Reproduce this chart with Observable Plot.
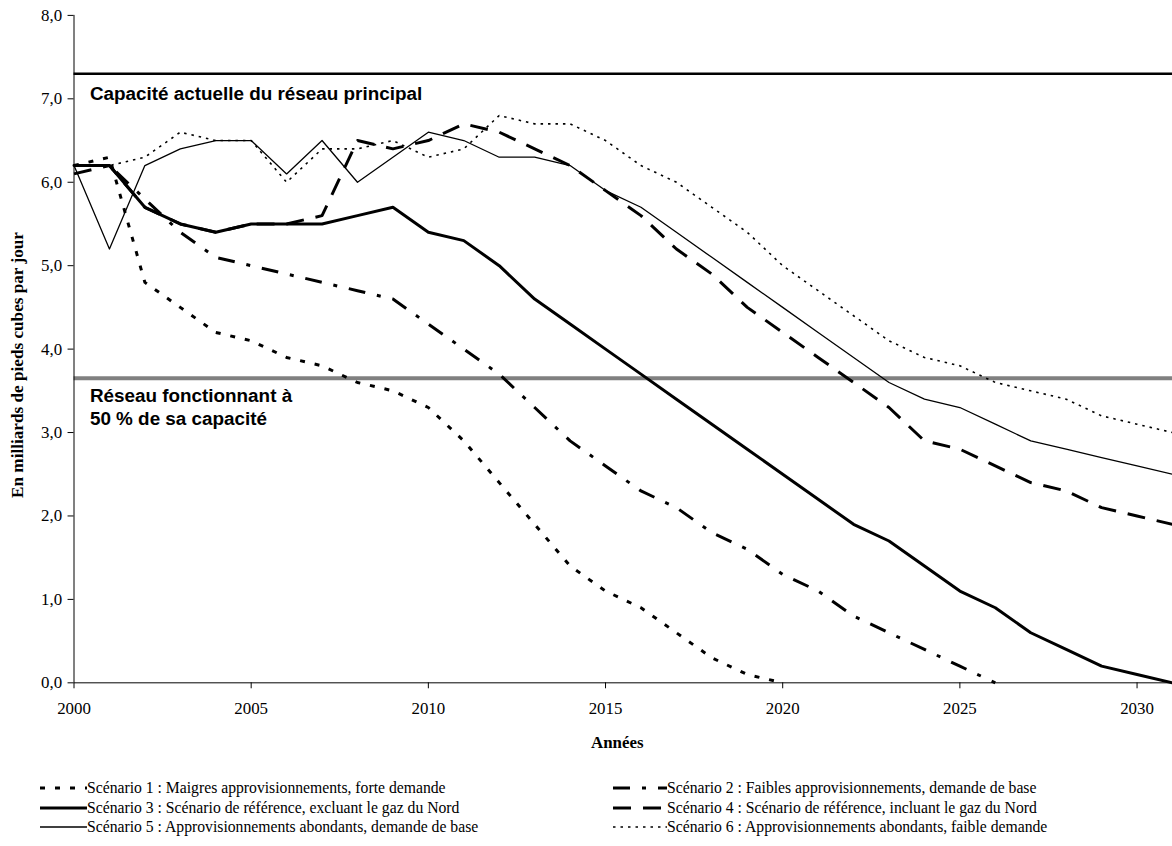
<!DOCTYPE html>
<html>
<head>
<meta charset="utf-8">
<script src="https://cdn.jsdelivr.net/npm/d3@7"></script>
<script src="https://cdn.jsdelivr.net/npm/@observablehq/plot@0.6"></script>
<style>
html, body { margin: 0; padding: 0; background: #fff; overflow: hidden; }
#wrap { position: relative; width: 1172px; height: 846px; overflow: hidden; background: #fff; }
#legend { position: absolute; left: 0; top: 0; width: 1172px; height: 846px; pointer-events: none;
  font-family: "Liberation Serif", "Times New Roman", serif; font-size: 15.7px; color: #000; }
.item { position: absolute; display: flex; align-items: center; height: 20px; white-space: nowrap; }
.item svg { display: block; }
</style>
</head>
<body>
<div id="wrap"><div id="chart"></div><div id="legend"></div></div>
<script>
// ---- Data ----
const years = [2000, 2001, 2002, 2003, 2004, 2005, 2006, 2007, 2008, 2009, 2010,
               2011, 2012, 2013, 2014, 2015, 2016, 2017, 2018, 2019, 2020,
               2021, 2022, 2023, 2024, 2025, 2026, 2027, 2028, 2029, 2030, 2031];

const scenario1 = [6.2, 6.3, 4.8, 4.5, 4.2, 4.1, 3.9, 3.8, 3.6, 3.5, 3.3,
                   2.9, 2.4, 1.9, 1.4, 1.1, 0.9, 0.6, 0.3, 0.1, 0.0];
const scenario2 = [6.2, 6.2, 5.8, 5.4, 5.1, 5.0, 4.9, 4.8, 4.7, 4.6, 4.3,
                   4.0, 3.7, 3.3, 2.9, 2.6, 2.3, 2.1, 1.8, 1.6, 1.3,
                   1.1, 0.8, 0.6, 0.4, 0.2, 0.0];
const scenario3 = [6.2, 6.2, 5.7, 5.5, 5.4, 5.5, 5.5, 5.5, 5.6, 5.7, 5.4,
                   5.3, 5.0, 4.6, 4.3, 4.0, 3.7, 3.4, 3.1, 2.8, 2.5,
                   2.2, 1.9, 1.7, 1.4, 1.1, 0.9, 0.6, 0.4, 0.2, 0.1, 0.0];
const scenario4 = [6.1, 6.2, 5.7, 5.5, 5.4, 5.5, 5.5, 5.6, 6.5, 6.4, 6.5,
                   6.7, 6.6, 6.4, 6.2, 5.9, 5.6, 5.2, 4.9, 4.5, 4.2,
                   3.9, 3.6, 3.3, 2.9, 2.8, 2.6, 2.4, 2.3, 2.1, 2.0, 1.9];
const scenario5 = [6.2, 5.2, 6.2, 6.4, 6.5, 6.5, 6.1, 6.5, 6.0, 6.3, 6.6,
                   6.5, 6.3, 6.3, 6.2, 5.9, 5.7, 5.4, 5.1, 4.8, 4.5,
                   4.2, 3.9, 3.6, 3.4, 3.3, 3.1, 2.9, 2.8, 2.7, 2.6, 2.5];
const scenario6 = [6.2, 6.2, 6.3, 6.6, 6.5, 6.5, 6.0, 6.4, 6.4, 6.5, 6.3,
                   6.4, 6.8, 6.7, 6.7, 6.5, 6.2, 6.0, 5.7, 5.4, 5.0,
                   4.7, 4.4, 4.1, 3.9, 3.8, 3.6, 3.5, 3.4, 3.2, 3.1, 3.0];

const scenarioLabels = [
  "Scénario 1 : Maigres approvisionnements, forte demande",
  "Scénario 2 : Faibles approvisionnements, demande de base",
  "Scénario 3 : Scénario de référence, excluant le gaz du Nord",
  "Scénario 4 : Scénario de référence, incluant le gaz du Nord",
  "Scénario 5 : Approvisionnements abondants, demande de base",
  "Scénario 6 : Approvisionnements abondants, faible demande"
];

const capacity = 7.3;
const halfCapacity = 3.65;
const capacityLabel = "Capacité actuelle du réseau principal";
const halfCapacityLabel = "Réseau fonctionnant à\n50 % de sa capacité";
const xTicks = [2000, 2005, 2010, 2015, 2020, 2025, 2030];
const yTicks = [0, 1, 2, 3, 4, 5, 6, 7, 8];
const xTitle = "Années";
const yTitle = "En milliards de pieds cubes par jour";

// ---- Styles (separate from data) ----
const seriesValues = [scenario1, scenario2, scenario3, scenario4, scenario5, scenario6];
const lineStyles = [
  {width: 3,   dash: "5,10"},
  {width: 3,   dash: "17,12,4,12"},
  {width: 3,   dash: null},
  {width: 3,   dash: "18,12"},
  {width: 1.3, dash: null},
  {width: 1.6, dash: "2.5,5"}
];

const seriesRows = seriesValues.map(vals => vals.map((v, i) => ({year: years[i], value: v})));

const lineMarks = seriesRows.map((rows, k) => Plot.line(rows, {
  x: "year", y: "value", stroke: "#000",
  strokeWidth: lineStyles[k].width,
  strokeDasharray: lineStyles[k].dash || undefined,
  strokeLinecap: lineStyles[k].dash ? "butt" : "round",
  strokeLinejoin: "round"
}));

const comma = d => d.toFixed(1).replace(".", ",");

const chart = Plot.plot({
  width: 1180, height: 770,
  marginLeft: 74, marginRight: 0, marginTop: 15, marginBottom: 83,
  x: {domain: [2000, 2031]},
  y: {domain: [0, 8]},
  style: {fontFamily: "'Liberation Serif', 'Times New Roman', serif", fontSize: "17px", color: "#000", background: "#fff"},
  marks: [
    Plot.ruleY([capacity], {stroke: "#000", strokeWidth: 2.5}),
    Plot.ruleY([halfCapacity], {stroke: "#808080", strokeWidth: 4}),
    ...lineMarks,
    Plot.ruleX([2000], {stroke: "#000", strokeWidth: 1}),
    Plot.ruleY([0], {stroke: "#000", strokeWidth: 1}),
    Plot.axisX({ticks: xTicks, tickFormat: d => String(d), tickSize: 6, tickPadding: 13, label: null, fontSize: 17}),
    Plot.axisY({ticks: yTicks, tickFormat: comma, tickSize: 6, tickPadding: 6, label: null, fontSize: 17}),
    Plot.text([capacityLabel], {
      x: () => 2000, y: () => capacity, text: d => d, dx: 16, dy: 20,
      textAnchor: "start", lineAnchor: "middle",
      fontFamily: "'Liberation Sans', Arial, sans-serif", fontWeight: "bold", fontSize: 19
    }),
    Plot.text([halfCapacityLabel], {
      x: () => 2000, y: () => halfCapacity, text: d => d, dx: 16, dy: 28,
      textAnchor: "start", lineAnchor: "middle", lineHeight: 1.23,
      fontFamily: "'Liberation Sans', Arial, sans-serif", fontWeight: "bold", fontSize: 19
    }),
    Plot.text([xTitle], {text: d => d, frameAnchor: "bottom", dy: 60, dx: -6, textAnchor: "middle", lineAnchor: "middle", fontWeight: "bold", fontSize: 17}),
    Plot.text([yTitle], {text: d => d, frameAnchor: "left", dx: -57, dy: 16, rotate: -90, textAnchor: "middle", lineAnchor: "middle", fontWeight: "bold", fontSize: 17.3})
  ]
});
document.getElementById("chart").appendChild(chart);

// ---- Legend (HTML) ----
const legend = document.getElementById("legend");
const legendLayout = [
  {col: 0, row: 0}, {col: 1, row: 0},
  {col: 0, row: 1}, {col: 1, row: 1},
  {col: 0, row: 2}, {col: 1, row: 2}
];
const colLeft = [40, 613];
const colSwatch = [47, 54];
const rowCenter = [788, 807.5, 826.5];
scenarioLabels.forEach((label, k) => {
  const pos = legendLayout[k];
  const item = document.createElement("div");
  item.className = "item";
  item.style.left = colLeft[pos.col] + "px";
  item.style.top = (rowCenter[pos.row] - 10) + "px";
  const w = colSwatch[pos.col];
  const st = lineStyles[k];
  item.innerHTML = `<svg width="${w}" height="8"><line x1="0" x2="${w}" y1="4" y2="4" stroke="#000" stroke-width="${st.width}" ${st.dash ? `stroke-dasharray="${st.dash}"` : ""}/></svg><span>${label}</span>`;
  legend.appendChild(item);
});
</script>
</body>
</html>
